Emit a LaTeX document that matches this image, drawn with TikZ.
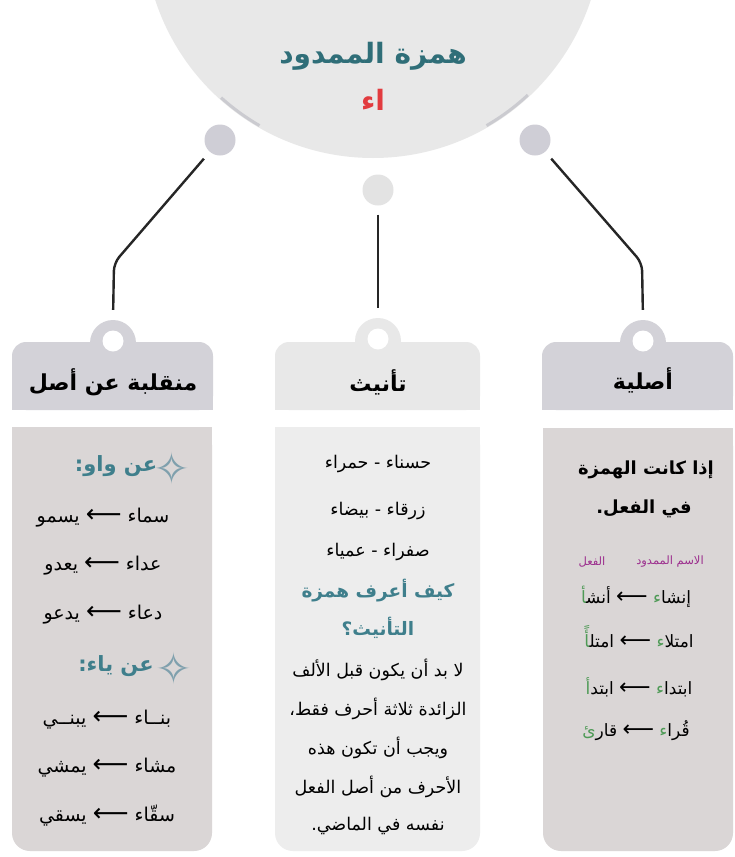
\documentclass[tikz,border=0pt]{standalone}
\usepackage{fontspec}
\newfontfamily\af[Script=Arabic]{DejaVu Sans}
\TeXXeTstate=1
\newcommand{\artxt}[1]{\beginR#1\endR}
\newcommand{\bigarr}{{\fontsize{25}{25}\selectfont ⟵}}
\newcommand{\midarr}{{\fontsize{22}{22}\selectfont ⟵}}
\definecolor{circbg}{HTML}{E8E8E8}
\definecolor{accentc}{HTML}{CBCBD0}
\definecolor{dotc}{HTML}{CFCED6}
\definecolor{dotm}{HTML}{E3E3E3}
\definecolor{linec}{HTML}{262626}
\definecolor{hdrside}{HTML}{D3D2D8}
\definecolor{bodyside}{HTML}{DAD6D6}
\definecolor{hdrmid}{HTML}{E8E8E8}
\definecolor{bodymid}{HTML}{EDEDED}
\definecolor{ttl}{HTML}{2F6E78}
\definecolor{subc}{HTML}{3F7F8C}
\definecolor{redc}{HTML}{E23B3F}
\definecolor{grn}{HTML}{4E9A56}
\definecolor{purp}{HTML}{9C2F8E}
\definecolor{starc}{HTML}{7FA0AD}
\begin{document}
\begin{tikzpicture}[x=1pt,y=-1pt,
  conn/.style={draw=linec, line width=2.4pt, rounded corners=8pt, shorten <=9pt, shorten >=10pt},
  dotnode/.style={circle, inner sep=0pt, minimum size=31pt, fill=#1},
  bump/.style={circle, inner sep=0pt, minimum size=46pt, fill=#1},
  hole/.style={circle, inner sep=0pt, minimum size=21pt, fill=white},
  titletext/.style={font=\af\bfseries\fontsize{28}{32}\selectfont, text=ttl},
  hdrtext/.style={font=\af\bfseries\fontsize{22}{26}\selectfont, text=black},
  sidetext/.style={font=\af\fontsize{19}{22}\selectfont, text=black, inner sep=0pt},
  midtext/.style={font=\af\fontsize{17.5}{21}\selectfont, text=black, inner sep=0pt},
  righttext/.style={font=\af\fontsize{17}{20}\selectfont, text=black, inner sep=0pt},
  boldtext/.style={font=\af\bfseries\fontsize{18}{21}\selectfont, text=black, inner sep=0pt},
  subhead/.style={font=\af\bfseries\fontsize{21}{24}\selectfont, text=subc, inner sep=0pt},
  midhead/.style={font=\af\bfseries\fontsize{18.5}{22}\selectfont, text=subc, inner sep=0pt},
  starmark/.style={font=\af\fontsize{44}{46}\selectfont, text=starc, inner sep=0pt},
  lbl/.style={font=\af\fontsize{11.5}{13}\selectfont, text=purp, inner sep=0pt}
]
\useasboundingbox (0,0) rectangle (735,857);
\fill[white] (0,0) rectangle (735,857);
\begin{scope}
\clip (0,0) rectangle (735,857);
\fill[circbg] (373,-71) circle (229);
\draw[accentc, line width=3pt] ([shift={(132:227)}]373,-71) arc (132:120:227);
\draw[accentc, line width=3pt] ([shift={(60:227)}]373,-71) arc (60:47:227);
\end{scope}
\node[titletext] (title) at (373,56) {\artxt{همزة الممدود}};
\node[titletext, text=redc] (titlesub) at (373,100) {\artxt{اء}};

% dots
\node[dotnode=dotc] (dL) at (220,140) {};
\node[dotnode=dotm] (dM) at (378,190) {};
\node[dotnode=dotc] (dR) at (535,140) {};

% ---------- left tab ----------
\fill[hdrside, rounded corners=14pt] (12,342) rectangle (213,410);
\fill[hdrside] (12,380) rectangle (213,410);
\node[bump=hdrside] (bL) at (113,343) {};
\node[hole] (hL) at (113,341) {};
\node[hdrtext] (tL) at (113,382) {\artxt{منقلبة عن أصل}};
\fill[bodyside, rounded corners=18pt] (12,427) rectangle (212,851);
\fill[bodyside] (12,427) rectangle (212,470);

% ---------- middle tab ----------
\fill[hdrmid, rounded corners=14pt] (275,342) rectangle (480,410);
\fill[hdrmid] (275,380) rectangle (480,410);
\node[bump=hdrmid] (bM) at (378,341) {};
\node[hole] (hM) at (378,339) {};
\node[hdrtext] (tM) at (378,382) {\artxt{تأنيث}};
\fill[bodymid, rounded corners=18pt] (275,427) rectangle (480,851);
\fill[bodymid] (275,427) rectangle (480,470);

% ---------- right tab ----------
\fill[hdrside, rounded corners=14pt] (542,342) rectangle (733,410);
\fill[hdrside] (542,380) rectangle (733,410);
\node[bump=hdrside] (bR) at (643,343) {};
\node[hole] (hR) at (643,341) {};
\node[hdrtext] (tR) at (643,380) {\artxt{أصلية}};
\fill[bodyside, rounded corners=18pt] (543,428) rectangle (733,851);
\fill[bodyside] (543,428) rectangle (733,470);

% connectors
\coordinate (kL) at (114,263);
\coordinate (kR) at (642,263);
\draw[conn] (dL) -- (kL) -- (bL.north);
\draw[conn] (dM) -- (bM.north);
\draw[conn] (dR) -- (kR) -- (bR.north);

% ---------- left body ----------
\node[subhead] (wawH) at (116,466) {\artxt{عن واو:}};
\node[starmark] (wawS) at (172,468) {✧};
\node[sidetext] (l1) at (103,518) {\artxt{سماء \bigarr{} يسمو}};
\node[sidetext] (l2) at (103,566) {\artxt{عداء \bigarr{} يعدو}};
\node[sidetext] (l3) at (103,615) {\artxt{دعاء \bigarr{} يدعو}};
\node[subhead] (yaH) at (116,666) {\artxt{عن ياء:}};
\node[starmark] (yaS) at (174,668) {✧};
\node[sidetext] (l4) at (107,720) {\artxt{بنــاء \bigarr{} يبنــي}};
\node[sidetext] (l5) at (107,768) {\artxt{مشاء \bigarr{} يمشي}};
\node[sidetext] (l6) at (107,816) {\artxt{سقّاء \bigarr{} يسقي}};

% ---------- middle body ----------
\node[midtext] (m1) at (378,464) {\artxt{حسناء - حمراء}};
\node[midtext] (m2) at (378,511) {\artxt{زرقاء - بيضاء}};
\node[midtext] (m3) at (378,552) {\artxt{صفراء - عمياء}};
\node[midhead] (m4) at (378,591) {\artxt{كيف أعرف همزة}};
\node[midhead] (m5) at (378,628) {\artxt{التأنيث؟}};
\node[midtext] (m6) at (378,670) {\artxt{لا بد أن يكون قبل الألف}};
\node[midtext] (m7) at (378,709) {\artxt{الزائدة ثلاثة أحرف فقط،}};
\node[midtext] (m8) at (378,748) {\artxt{ويجب أن تكون هذه}};
\node[midtext] (m9) at (378,787) {\artxt{الأحرف من أصل الفعل}};
\node[midtext] (m10) at (378,826) {\artxt{نفسه في الماضي.}};

% ---------- right body ----------
\node[boldtext] (r1) at (646,470) {\artxt{إذا كانت الهمزة}};
\node[boldtext] (r2) at (644,509) {\artxt{في الفعل.}};
\node[lbl] (lblV) at (592,562) {\artxt{الفعل}};
\node[lbl] (lblN) at (670,562) {\artxt{الاسم الممدود}};
\node[righttext] (r3) at (636,597) {{\color{grn}\artxt{‍أ}}\artxt{أنش‍} \midarr{} {\color{grn}\artxt{ء}}\artxt{إنشا}};
\node[righttext] (r4) at (639,637) {{\color{grn}\artxt{‍أً}}\artxt{امتل‍} \midarr{} {\color{grn}\artxt{ء}}\artxt{امتلا}};
\node[righttext] (r5) at (639,687) {{\color{grn}\artxt{أ}}\artxt{ابتد} \midarr{} {\color{grn}\artxt{ء}}\artxt{ابتدا}};
\node[righttext] (r6) at (636,731) {{\color{grn}\artxt{ئ}}\artxt{قار} \midarr{} {\color{grn}\artxt{ء}}\artxt{قُرا}};
\end{tikzpicture}
\end{document}
